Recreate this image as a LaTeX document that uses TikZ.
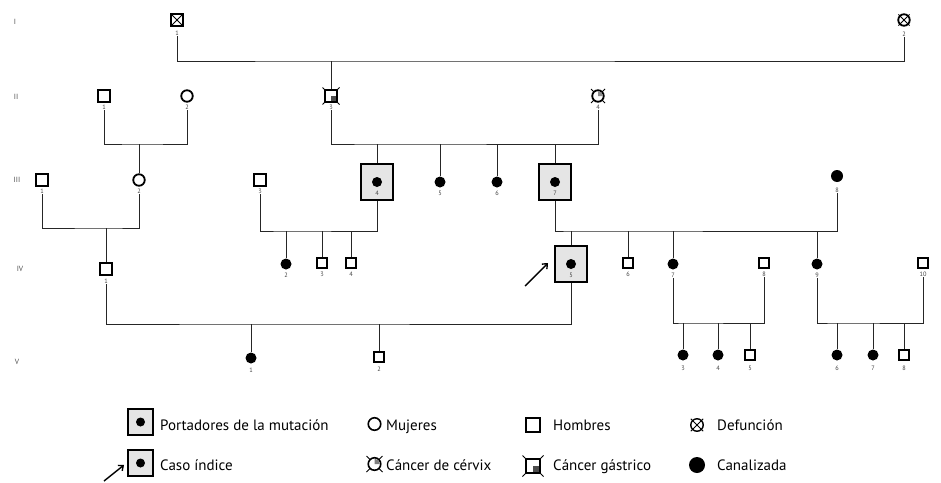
\documentclass[tikz,border=0pt]{standalone}
\usepackage{fontspec}
\setmainfont{PT Sans}
\usetikzlibrary{arrows.meta,calc}
\tikzset{
  rel/.style={line width=0.9pt, draw=black!85},
  dx/.style={line width=0.9pt, draw=black},
  male/.style={draw, rectangle, line width=1.8pt, fill=white, minimum size=11.5pt, inner sep=0pt},
  smale/.style={male, minimum size=9.5pt},
  female/.style={draw, circle, line width=1.8pt, fill=white, minimum size=11.5pt, inner sep=0pt},
  canal/.style={circle, fill=black, minimum size=11pt, inner sep=0pt},
  carrier/.style={draw, rectangle, line width=2.3pt, fill=black!10, minimum width=31.5pt, minimum height=35.5pt, inner sep=0pt},
  cdot/.style={circle, fill=black, minimum size=10pt, inner sep=0pt},
  num/.style={font=\fontsize{6.3}{7}\selectfont, text=black!75, inner sep=0.8pt},
  gen/.style={font=\fontsize{7.5}{8}\selectfont, text=black!70, inner sep=0pt},
  leg/.style={font=\fontsize{15}{17}\selectfont, anchor=base west, inner sep=0pt},
  proband/.style={line width=1.4pt, -{Straight Barb[length=4pt,width=7pt]}},
}
\begin{document}
\begin{tikzpicture}[x=1pt,y=-1pt]
\useasboundingbox (0,0) rectangle (941,482);

% generation labels
\node[gen] (gI) at (15,22) {I};
\node[gen] (gII) at (16,97) {II};
\node[gen] (gIII) at (17,180) {III};
\node[gen] (gIV) at (20,269) {IV};
\node[gen] (gV) at (17,362) {V};

% ---------- Generation I
\node[male] (I1) at (177,20) {};
\draw[dx] (I1.north west) -- (I1.south east) (I1.north east) -- (I1.south west);
\node[num] (lI1) at (177,33) {1};
\node[female] (I2) at (904,20) {};
\draw[dx] ($(I2.center)+(-5.6,-5.6)$) -- ($(I2.center)+(5.6,5.6)$) ($(I2.center)+(5.6,-5.6)$) -- ($(I2.center)+(-5.6,5.6)$);
\node[num] (lI2) at (904,34) {2};

% ---------- Generation II
\node[male] (II1) at (104,96) {};
\node[num] (lII1) at (104,107) {1};
\node[female] (II2) at (187,96) {};
\node[num] (lII2) at (187,107) {2};

\coordinate (cII3) at (331,96);
\draw[dx] ($(cII3)+(-8.5,-8.5)$) -- ($(cII3)+(8.5,8.5)$) ($(cII3)+(8.5,-8.5)$) -- ($(cII3)+(-8.5,8.5)$);
\node[male] (II3) at (cII3) {};
\fill[black!70] (II3.center) rectangle ($(II3.center)+(4.7,4.7)$);
\node[num] (lII3) at (331,107) {3};

\coordinate (cII4) at (598,96);
\draw[dx] ($(cII4)+(-7,-7)$) -- ($(cII4)+(7,7)$) ($(cII4)+(7,-7)$) -- ($(cII4)+(-7,7)$);
\node[female] (II4) at (cII4) {};
\fill[black!45] (II4.center) -- ++(4.9,0) arc[start angle=0, end angle=-90, radius=4.9] -- cycle;
\node[num] (lII4) at (598,107) {4};

% ---------- Generation III
\node[male] (III1) at (42,180) {};
\node[num] (lIII1) at (42,191) {1};
\node[female] (III2) at (139,180) {};
\node[num] (lIII2) at (139,191) {2};
\node[male] (III3) at (260,180) {};
\node[num] (lIII3) at (260,191) {3};
\node[carrier] (III4) at (377,182) {};
\node[cdot] (dIII4) at (377,182) {};
\node[num] (lIII4) at (377,193) {4};
\node[canal] (III5) at (440,182) {};
\node[num] (lIII5) at (440,193) {5};
\node[canal] (III6) at (497,182) {};
\node[num] (lIII6) at (497,193) {6};
\node[carrier] (III7) at (555,182) {};
\node[cdot] (dIII7) at (555,182) {};
\node[num] (lIII7) at (555,193) {7};
\node[canal, minimum size=12pt] (III8) at (837,176) {};
\node[num] (lIII8) at (837,190) {8};

% ---------- Generation IV
\node[male] (IV1) at (106,269) {};
\node[num] (lIV1) at (106,281) {1};
\node[canal] (IV2) at (286,264) {};
\node[num] (lIV2) at (286,275) {2};
\node[smale] (IV3) at (322,263) {};
\node[num] (lIV3) at (322,274) {3};
\node[smale] (IV4) at (351,263) {};
\node[num] (lIV4) at (351,274) {4};
\node[carrier] (IV5) at (571,264) {};
\node[cdot] (dIV5) at (571,264) {};
\node[num] (lIV5) at (571,275) {5};
\node[smale] (IV6) at (628,263) {};
\node[num] (lIV6) at (628,274) {6};
\node[canal] (IV7) at (673,264) {};
\node[num] (lIV7) at (673,275) {7};
\node[smale] (IV8) at (764,263) {};
\node[num] (lIV8) at (764,274) {8};
\node[canal] (IV9) at (817,264) {};
\node[num] (lIV9) at (817,275) {9};
\node[smale] (IV10) at (923,263) {};
\node[num] (lIV10) at (923,274) {10};

% ---------- Generation V
\node[canal] (V1) at (251,358) {};
\node[num] (lV1) at (251,370) {1};
\node[smale] (V2) at (379,357) {};
\node[num] (lV2) at (379,369) {2};
\node[canal] (V3) at (683,355) {};
\node[num] (lV3) at (683,368) {3};
\node[canal] (V4) at (718,355) {};
\node[num] (lV4) at (718,368) {4};
\node[smale] (V5) at (750,355) {};
\node[num] (lV5) at (750,368) {5};
\node[canal] (V6) at (837,355) {};
\node[num] (lV6) at (837,368) {6};
\node[canal] (V7) at (873,355) {};
\node[num] (lV7) at (873,368) {7};
\node[smale] (V8) at (904,355) {};
\node[num] (lV8) at (904,368) {8};

% ---------- connectors
\coordinate (mI) at (331,61);
\draw[rel] (lI1.south) |- (mI) -| (lI2.south);
\draw[rel] (mI) -- (II3.north);

\coordinate (mII12) at (139,144);
\draw[rel] (lII1.south) |- (mII12) -| (lII2.south);
\draw[rel] (mII12) -- (III2.north);

\coordinate (mII34) at (377,144);
\draw[rel] (lII3.south) |- (mII34) -| (lII4.south);
\draw[rel] (mII34) -- (III4.north);
\draw[rel] (III5 |- mII34) -- (III5.north);
\draw[rel] (III6 |- mII34) -- (III6.north);
\draw[rel] (III7 |- mII34) -- (III7.north);

\coordinate (mIII12) at (106,228);
\draw[rel] (lIII1.south) |- (mIII12) -| (lIII2.south);
\draw[rel] (mIII12) -- (IV1.north);

\coordinate (mIII34) at (286,231);
\draw[rel] (lIII3.south) |- (mIII34) -| (III4.south);
\draw[rel] (mIII34) -- (IV2.north);
\draw[rel] (IV3 |- mIII34) -- (IV3.north);
\draw[rel] (IV4 |- mIII34) -- (IV4.north);

\coordinate (mIII78) at (571,231);
\draw[rel] (III7.south) |- (mIII78) -| (lIII8.south);
\draw[rel] (mIII78) -- (IV5.north);
\draw[rel] (IV6 |- mIII78) -- (IV6.north);
\draw[rel] (IV7 |- mIII78) -- (IV7.north);
\draw[rel] (IV9 |- mIII78) -- (IV9.north);

\coordinate (mIV15) at (251,324);
\draw[rel] (lIV1.south) |- (mIV15) -| (IV5.south);
\draw[rel] (mIV15) -- (V1.north);
\draw[rel] (V2 |- mIV15) -- (V2.north);

\coordinate (mIV78) at (683,323);
\draw[rel] (lIV7.south) |- (mIV78) -| (lIV8.south);
\draw[rel] (mIV78) -- (V3.north);
\draw[rel] (V4 |- mIV78) -- (V4.north);
\draw[rel] (V5 |- mIV78) -- (V5.north);

\coordinate (mIV910) at (837,323);
\draw[rel] (lIV9.south) |- (mIV910) -| (lIV10.south);
\draw[rel] (mIV910) -- (V6.north);
\draw[rel] (V7 |- mIV910) -- (V7.north);
\draw[rel] (V8 |- mIV910) -- (V8.north);

% proband arrow
\coordinate (pa) at (525,286);
\coordinate (pb) at (548,263);
\draw[proband] (pa) -- (pb);

% ---------- legend
\node[carrier, line width=2pt, minimum width=25pt, minimum height=26pt] (Lcar) at (140.5,422) {};
\node[cdot, minimum size=9pt] (Lcard) at (140.5,422) {};
\node[leg] (Ltcar) at (160,430) {Portadores de la mutación};

\node[carrier, line width=2pt, minimum width=25pt, minimum height=26pt] (Lind) at (140.5,463) {};
\node[cdot, minimum size=9pt] (Lindd) at (140.5,463) {};
\node[leg] (Ltind) at (160,470) {Caso índice};
\coordinate (La) at (104,481);
\coordinate (Lb) at (124,465);
\draw[proband] (La) -- (Lb);

\node[female, line width=1.6pt, minimum size=12.5pt] (Lfem) at (374.5,424) {};
\node[leg] (Ltfem) at (386,430) {Mujeres};

\coordinate (cLcx) at (374.5,464);
\draw[dx] ($(cLcx)+(-8,-8)$) -- ($(cLcx)+(8,8)$) ($(cLcx)+(8,-8)$) -- ($(cLcx)+(-8,8)$);
\node[female, line width=1.6pt, minimum size=12.5pt] (Lcx) at (cLcx) {};
\fill[black!50] (Lcx.center) -- ++(5.3,0) arc[start angle=0, end angle=-90, radius=5.3] -- cycle;
\node[leg] (Ltcx) at (386,470) {Cáncer de cérvix};

\node[male, line width=1.6pt, minimum size=14.5pt] (Lmal) at (533,425) {};
\node[leg] (Ltmal) at (553,430) {Hombres};

\coordinate (cLga) at (533,466);
\draw[dx] ($(cLga)+(-10.5,-10.5)$) -- ($(cLga)+(10.5,10.5)$) ($(cLga)+(10.5,-10.5)$) -- ($(cLga)+(-10.5,10.5)$);
\node[male, line width=1.6pt, minimum size=14.5pt] (Lga) at (cLga) {};
\fill[black!70] (Lga.center) rectangle ($(Lga.center)+(6.3,6.3)$);
\node[leg] (Ltga) at (553,470) {Cáncer gástrico};

\node[female, line width=1.4pt, minimum size=12.5pt] (Ldef) at (697,425) {};
\draw[dx] ($(Ldef.center)+(-6.2,-6.2)$) -- ($(Ldef.center)+(6.2,6.2)$) ($(Ldef.center)+(6.2,-6.2)$) -- ($(Ldef.center)+(-6.2,6.2)$);
\node[leg] (Ltdef) at (717,430) {Defunción};

\node[canal, minimum size=16pt] (Lcan) at (697,465) {};
\node[leg] (Ltcan) at (717,470) {Canalizada};
\end{tikzpicture}
\end{document}
